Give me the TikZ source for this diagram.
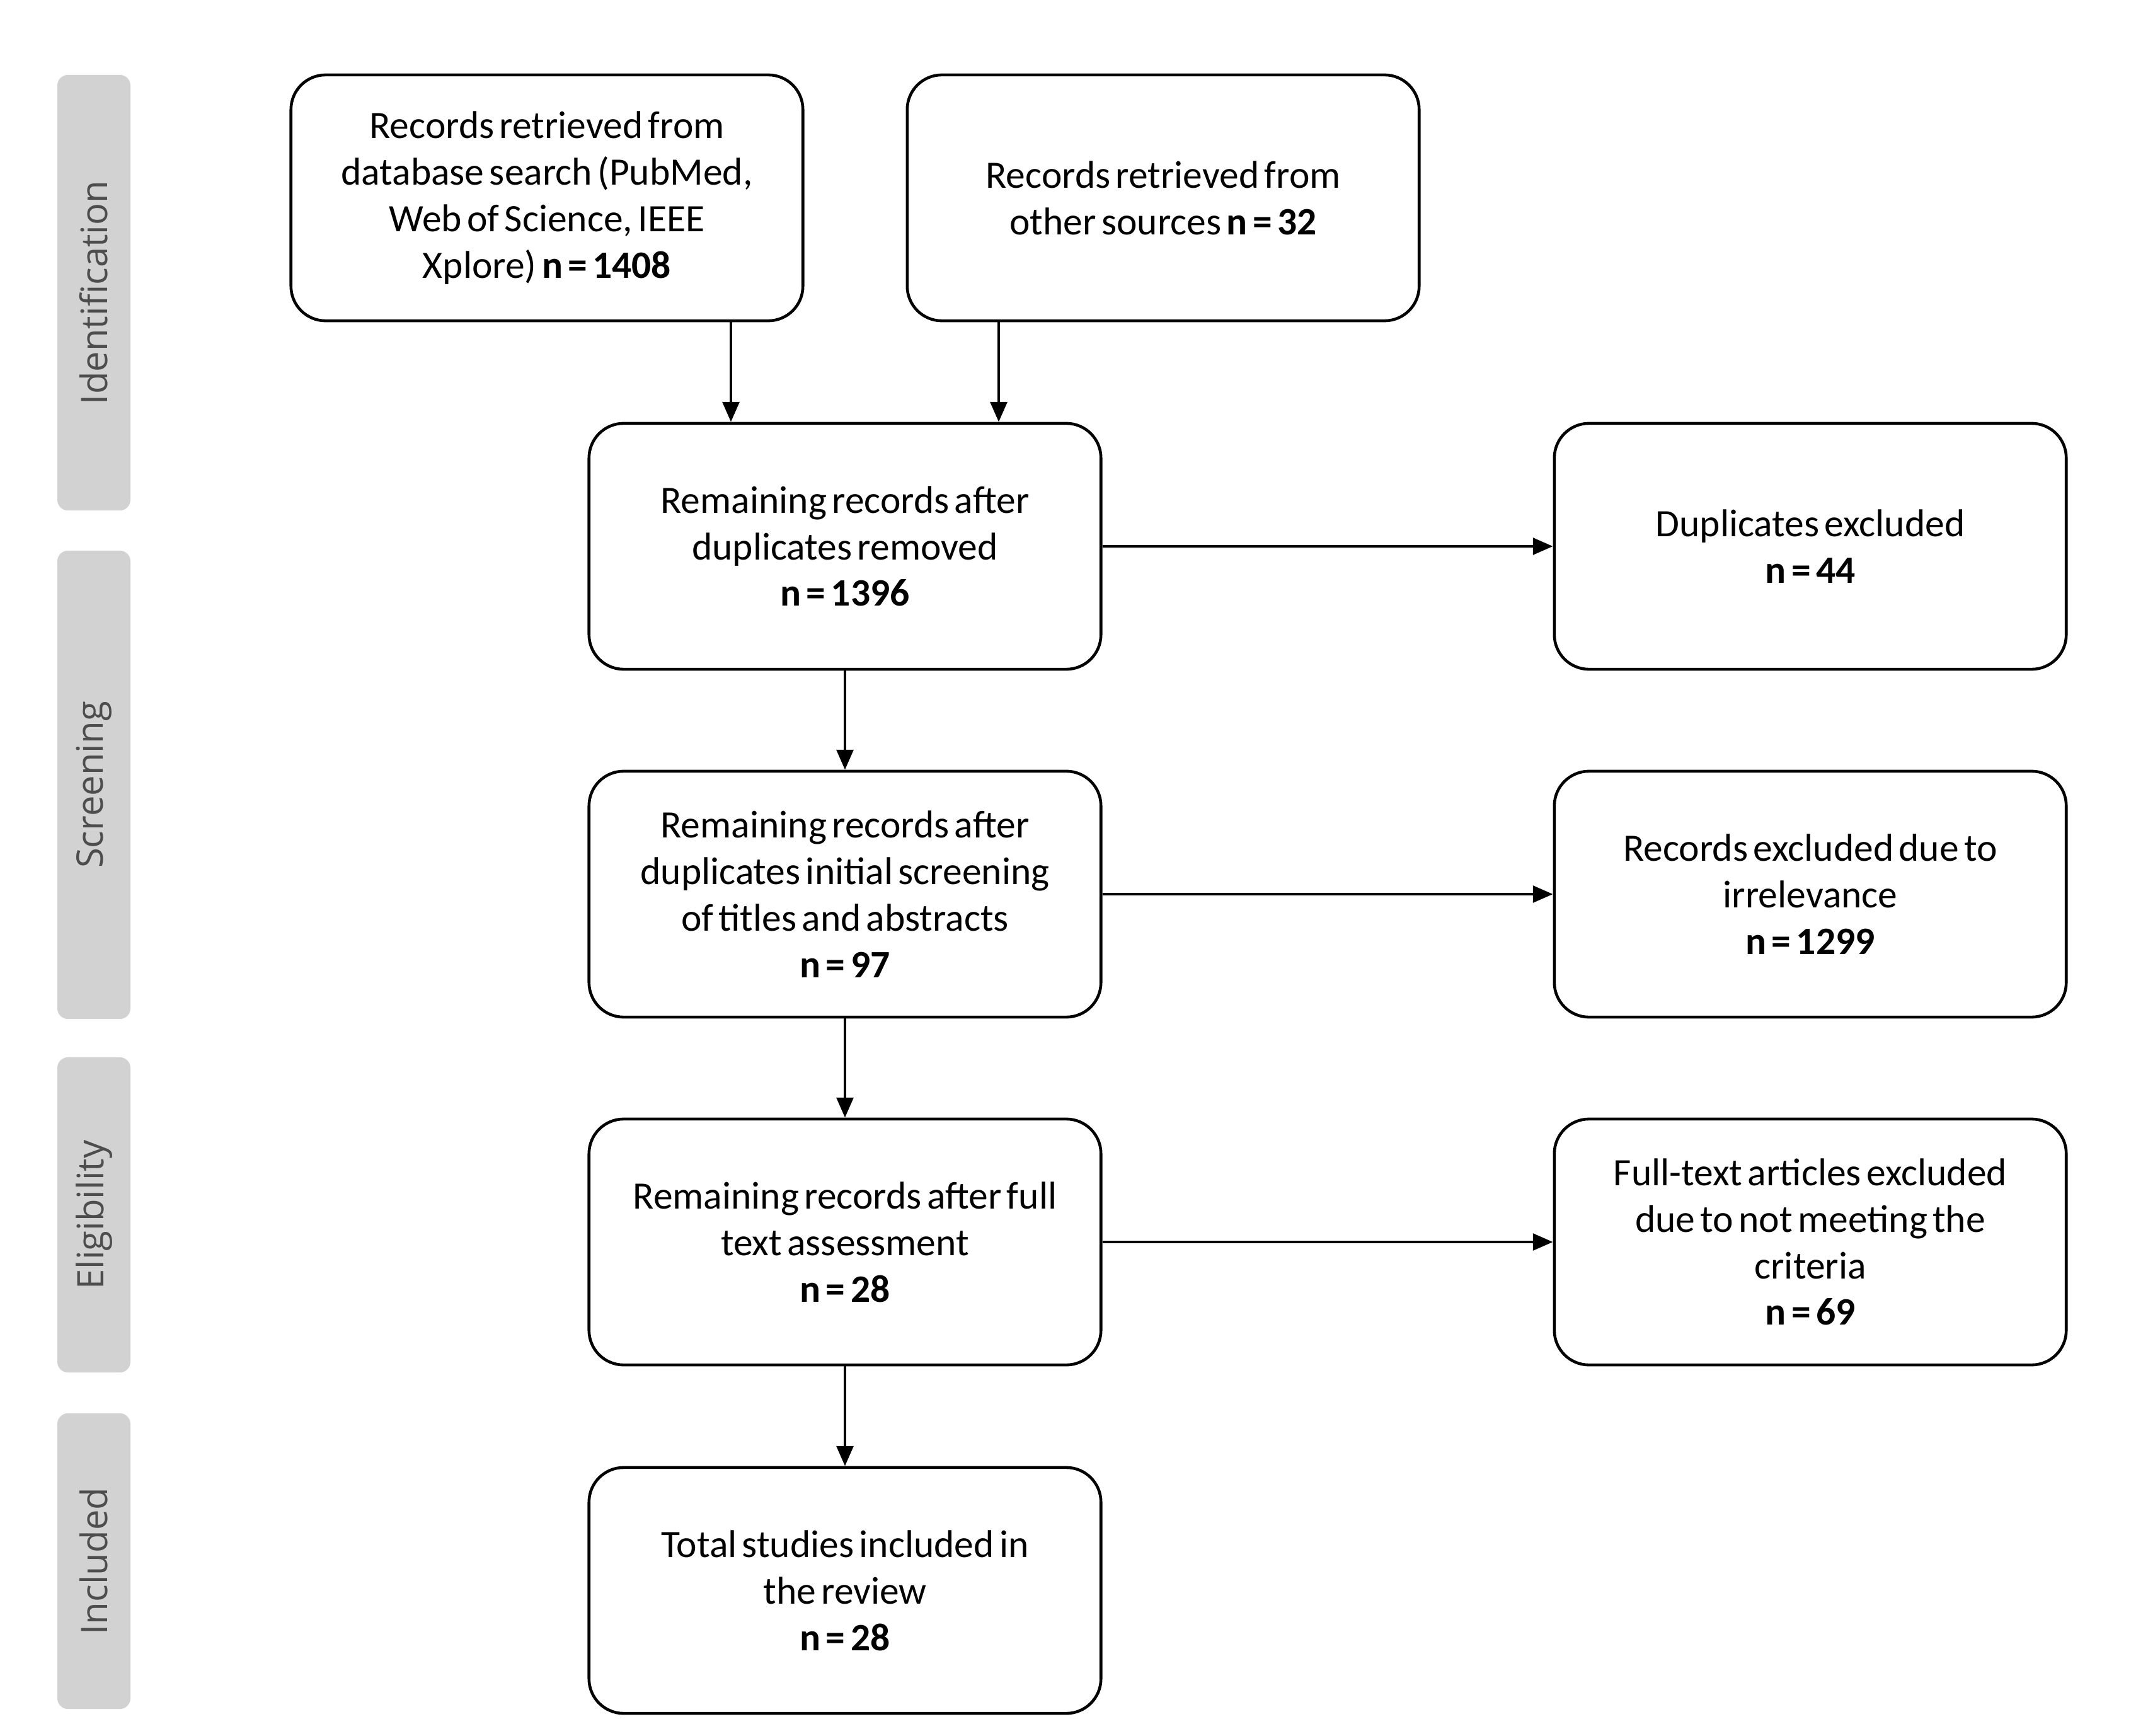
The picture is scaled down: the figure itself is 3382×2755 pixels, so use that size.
\documentclass[tikz,border=0pt]{standalone}
\usepackage{fontspec}
\usetikzlibrary{arrows.meta}
\newfontfamily\boxfontfam{Carlito}[WordSpace=0.6]
\newfontfamily\labelfontfam{Open Sans}
\definecolor{barcol}{HTML}{D2D2D2}
\definecolor{labcol}{HTML}{4D4D4D}
\tikzset{
  flowbox/.style={draw, line width=1.3pt, rounded corners=0.55cm, minimum width=8.12cm, minimum height=3.9cm,
    align=center, inner sep=0pt, font=\boxfontfam\fontsize{17.5}{21}\selectfont},
  phasebar/.style={fill=barcol, rounded corners=0.17cm, minimum width=1.16cm, inner sep=0pt,
    text=labcol, font=\labelfontfam\fontsize{16.5}{19}\selectfont},
  arr/.style={-{Triangle[length=9pt,width=7.5pt]}, line width=1.3pt}
}
\begin{document}
\begin{tikzpicture}[x=0.01cm, y=-0.01cm]
\useasboundingbox (0,0) rectangle (3382,2755);
% phase bars
\node[phasebar, minimum height=6.91cm] (p1) at (149,464.5) {\rotatebox{90}{Identification}};
\node[phasebar, minimum height=7.43cm] (p2) at (149,1245.5) {\rotatebox{90}{Screening}};
\node[phasebar, minimum height=5.00cm] (p3) at (149,1928) {\rotatebox{90}{Eligibility}};
\node[phasebar, minimum height=4.69cm] (p4) at (149,2477.5) {\rotatebox{90}{Included}};
% boxes
\node[flowbox] (b1) at (868,314) {Records retrieved from\\ database search (PubMed,\\ Web of Science, IEEE\\ Xplore) \textbf{n = 1408}};
\node[flowbox] (b2) at (1846,314) {Records retrieved from\\ other sources \textbf{n = 32}};
\node[flowbox] (b3) at (1341,867) {Remaining records after\\ duplicates removed\\ \textbf{n = 1396}};
\node[flowbox] (b4) at (2873,867) {Duplicates excluded\\ \textbf{n = 44}};
\node[flowbox] (b5) at (1341,1419) {Remaining records after\\ duplicates initial screening\\ of titles and abstracts\\ \textbf{n = 97}};
\node[flowbox] (b6) at (2873,1419) {Records excluded due to\\ irrelevance\\ \textbf{n = 1299}};
\node[flowbox] (b7) at (1341,1971) {Remaining records after full\\ text assessment\\ \textbf{n = 28}};
\node[flowbox] (b8) at (2873,1971) {Full-text articles excluded\\ due to not meeting the\\ criteria\\ \textbf{n = 69}};
\node[flowbox] (b9) at (1341,2524) {Total studies included in\\ the review\\ \textbf{n = 28}};
% connectors
\coordinate (ax1) at (1160,0);
\coordinate (ax2) at (1585,0);
\draw[arr] (b1.south -| ax1) -- (b3.north -| ax1);
\draw[arr] (b2.south -| ax2) -- (b3.north -| ax2);
\draw[arr] (b3) -- (b4);
\draw[arr] (b3) -- (b5);
\draw[arr] (b5) -- (b6);
\draw[arr] (b5) -- (b7);
\draw[arr] (b7) -- (b8);
\draw[arr] (b7) -- (b9);
\end{tikzpicture}
\end{document}
